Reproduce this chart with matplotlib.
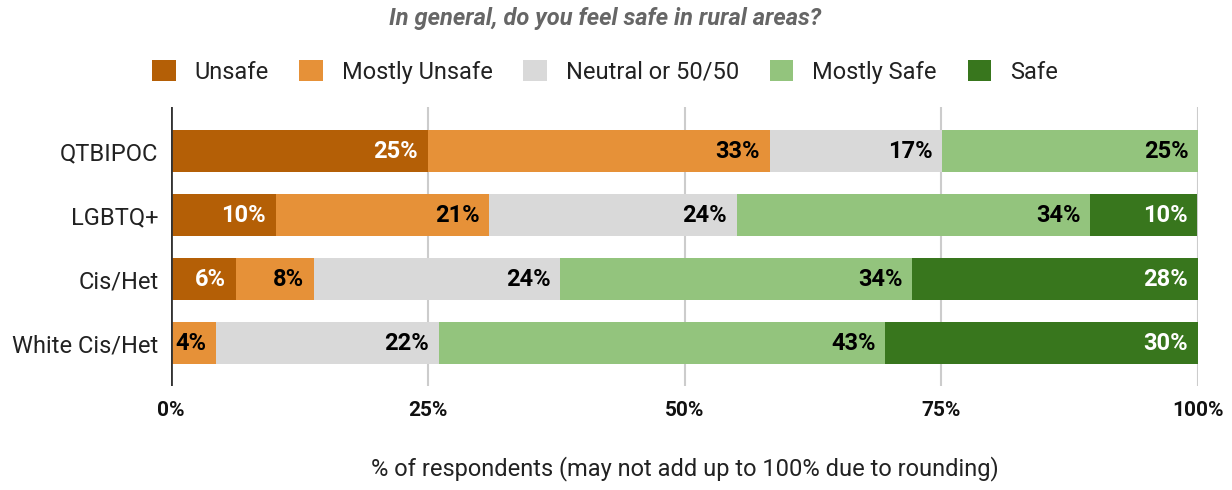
import numpy as np
import matplotlib.pyplot as plt

plt.rcParams['font.family'] = ['Roboto', 'DejaVu Sans']

groups = ['QTBIPOC', 'LGBTQ+', 'Cis/Het', 'White Cis/Het']
levels = ['Unsafe', 'Mostly Unsafe', 'Neutral or 50/50', 'Mostly Safe', 'Safe']
colors = ['#b45f06', '#e69138', '#d9d9d9', '#93c47d', '#38761d']
text_colors = ['white', 'black', 'black', 'black', 'white']

# share of respondents per answer, one list per group
unsafe = [25.0, 10.2, 6.3, 0.0]
mostly_unsafe = [33.3, 20.8, 7.6, 4.4]
neutral = [16.8, 24.1, 24.0, 21.7]
mostly_safe = [24.9, 34.4, 34.3, 43.45]
safe = [0.0, 10.4, 27.8, 30.45]
series = [unsafe, mostly_unsafe, neutral, mostly_safe, safe]

fig = plt.figure(figsize=(12.32, 4.9), dpi=100)
ax = fig.add_axes([171 / 1232, 1 - 386 / 490, 1027 / 1232, 279 / 490])

y = np.arange(len(groups))
left = np.zeros(len(groups))
for vals, name, col, tcol in zip(series, levels, colors, text_colors):
    vals = np.array(vals)
    ax.barh(y, vals, left=left, height=0.66, color=col, label=name, zorder=2)
    for yi, v, l in zip(y, vals, left):
        if v <= 0:
            continue
        ax.annotate(f'{v:.0f}%', (l + v, yi), xytext=(-7, 0), textcoords='offset points',
                    ha='right', va='center', fontsize=17, fontweight='bold', color=tcol, zorder=3)
    left += vals

ax.set_xlim(0, 100)
ax.set_ylim(3 + 43 / 64, -44 / 64)
ax.set_yticks(y)
ax.set_yticklabels(groups, fontsize=17, color='#222222')
ax.set_xticks([0, 25, 50, 75, 100])
ax.set_xticklabels(['0%', '25%', '50%', '75%', '100%'], fontsize=15, fontweight='bold', color='#111111')
ax.tick_params(length=0)
ax.tick_params(axis='x', pad=11)
ax.tick_params(axis='y', pad=9)
for s in ax.spines.values():
    s.set_visible(False)
ax.grid(axis='x', color='#cccccc', linewidth=1.5, zorder=0)
ax.axvline(0, color='#333333', linewidth=2, zorder=4)

ax.set_xlabel('% of respondents (may not add up to 100% due to rounding)', fontsize=17,
              color='#222222', labelpad=26)

fig.text(0.491, 1 - 18 / 490, 'In general, do you feel safe in rural areas?', ha='center', va='center',
         fontsize=17, fontweight='bold', fontstyle='italic', color='#666666')

fig.legend(loc='center', bbox_to_anchor=(0.491, 1 - 72 / 490), ncol=5, frameon=False, fontsize=17,
           handlelength=1.0, handleheight=1.0, handletextpad=0.8, columnspacing=1.3,
           labelcolor='#222222')

fig.savefig('out.png', dpi=100)
